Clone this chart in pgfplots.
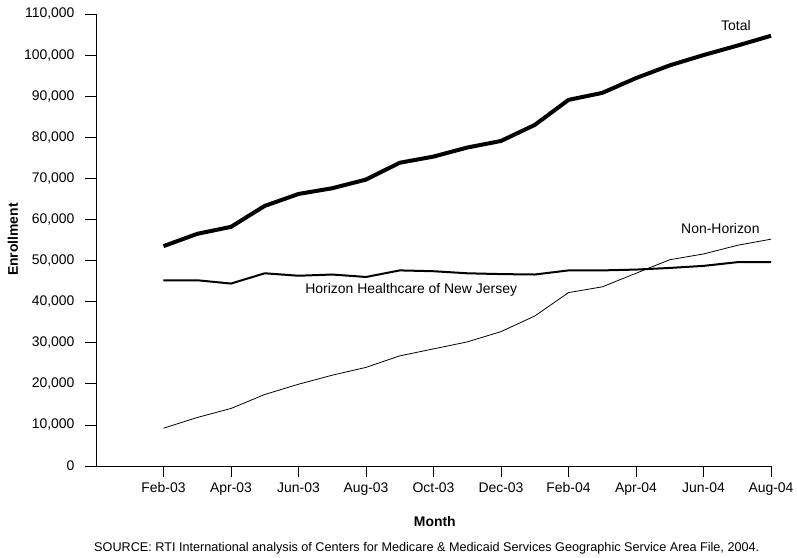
\documentclass[border=0pt]{standalone}
\usepackage{pgfplots}
\pgfplotsset{compat=1.18}
\usepackage{fontspec}
\setmainfont{Liberation Sans}
\pgfplotstableread{
m total horizon non
0 53500 45200 9200
1 56500 45200 11800
2 58200 44400 14000
3 63300 46900 17400
4 66200 46300 19900
5 67600 46600 22100
6 69700 46000 24000
7 73800 47600 26800
8 75300 47400 28500
9 77500 46900 30200
10 79100 46700 32700
11 83000 46600 36500
12 89100 47600 42200
13 90800 47600 43600
14 94400 47800 46900
15 97500 48200 50200
16 100000 48700 51600
17 102300 49600 53700
18 104700 49600 55200
}\datatable
\begin{document}
\begin{tikzpicture}
\begin{axis}[
  name=ax,
  scale only axis,
  width=675bp, height=452bp,
  xmin=-2, xmax=18,
  ymin=0, ymax=110000,
  axis x line*=bottom,
  axis y line*=left,
  axis line style={line width=0.8bp},
  tick style={line width=0.8bp, black},
  tick align=outside,
  major tick length=11bp,
  xtick={0,2,...,18},
  xticklabels={Feb-03,Apr-03,Jun-03,Aug-03,Oct-03,Dec-03,Feb-04,Apr-04,Jun-04,Aug-04},
  ytick={0,10000,20000,30000,40000,50000,60000,70000,80000,90000,100000,110000},
  yticklabels={0,{10,000},{20,000},{30,000},{40,000},{50,000},{60,000},{70,000},{80,000},{90,000},{100,000},{110,000}},
  scaled y ticks=false,
  ticklabel style={font=\fontsize{14}{16}\selectfont},
  xticklabel style={yshift=-2bp},
  yticklabel style={xshift=-7bp},
  xlabel={\textbf{Month}},
  ylabel={\textbf{Enrollment}},
  label style={font=\fontsize{14}{16}\selectfont},
  xlabel style={at={(axis description cs:0.502,-0.123)}, anchor=center},
  ylabel style={at={(axis description cs:-0.123,0.501)}, anchor=center},
  clip=false,
]
\addplot[black, line width=4bp, line join=round] table[x=m, y=total] {\datatable};
\addplot[black, line width=2bp, line join=round] table[x=m, y=horizon] {\datatable};
\addplot[black, line width=0.8bp, line join=round] table[x=m, y=non] {\datatable};
\node[font=\fontsize{14}{16}\selectfont] at (axis cs:16.96,107200) {Total};
\node[font=\fontsize{14}{16}\selectfont] at (axis cs:16.5,57700) {Non-Horizon};
\node[font=\fontsize{14}{16}\selectfont] at (axis cs:7.34,42800) {Horizon Healthcare of New Jersey};
\node[font=\fontsize{12.7}{14}\selectfont] at (axis description cs:0.49,-0.181) {SOURCE: RTI International analysis of Centers for Medicare \& Medicaid Services Geographic Service Area File, 2004.};
\end{axis}
\pgfresetboundingbox
\path ([shift={(-96bp,-92bp)}]ax.south west) rectangle ([shift={(26bp,14bp)}]ax.north east);
\end{tikzpicture}
\end{document}
